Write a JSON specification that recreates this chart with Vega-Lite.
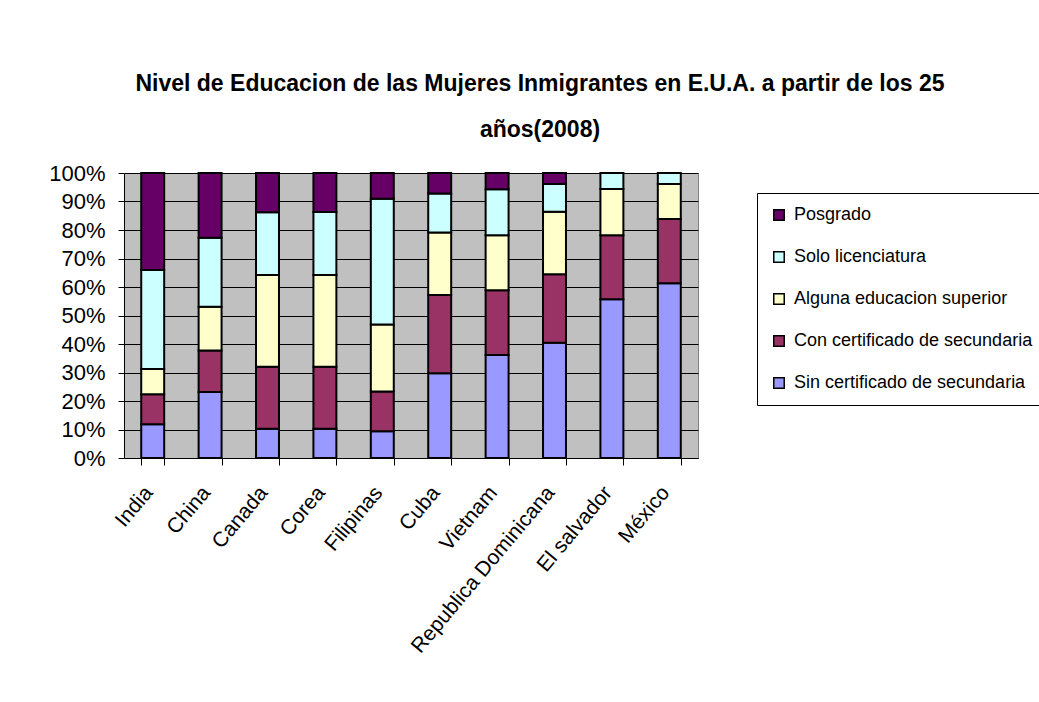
{
  "$schema": "https://vega.github.io/schema/vega-lite/v6.json",
  "width": 574,
  "height": 285,
  "autosize": {"type": "none"},
  "padding": {"left": 124, "top": 173, "right": 341, "bottom": 244},
  "background": "white",
  "title": {
    "text": ["Nivel de Educacion de las Mujeres Inmigrantes en E.U.A. a partir de los 25", "años(2008)"],
    "anchor": "middle",
    "frame": "group",
    "dx": 129,
    "offset": 20,
    "font": "Liberation Sans",
    "fontSize": 23,
    "fontWeight": "bold",
    "color": "black",
    "lineHeight": 46
  },
  "data": {
    "values": [
      {"pais": "India", "nivel": "Sin certificado de secundaria", "pct": 11.8},
      {"pais": "India", "nivel": "Con certificado de secundaria", "pct": 10.6},
      {"pais": "India", "nivel": "Alguna educacion superior", "pct": 8.8},
      {"pais": "India", "nivel": "Solo licenciatura", "pct": 34.8},
      {"pais": "India", "nivel": "Posgrado", "pct": 34.0},
      {"pais": "China", "nivel": "Sin certificado de secundaria", "pct": 23.2},
      {"pais": "China", "nivel": "Con certificado de secundaria", "pct": 14.5},
      {"pais": "China", "nivel": "Alguna educacion superior", "pct": 15.4},
      {"pais": "China", "nivel": "Solo licenciatura", "pct": 24.2},
      {"pais": "China", "nivel": "Posgrado", "pct": 22.7},
      {"pais": "Canada", "nivel": "Sin certificado de secundaria", "pct": 10.3},
      {"pais": "Canada", "nivel": "Con certificado de secundaria", "pct": 21.7},
      {"pais": "Canada", "nivel": "Alguna educacion superior", "pct": 32.2},
      {"pais": "Canada", "nivel": "Solo licenciatura", "pct": 22.0},
      {"pais": "Canada", "nivel": "Posgrado", "pct": 13.8},
      {"pais": "Corea", "nivel": "Sin certificado de secundaria", "pct": 10.3},
      {"pais": "Corea", "nivel": "Con certificado de secundaria", "pct": 21.7},
      {"pais": "Corea", "nivel": "Alguna educacion superior", "pct": 32.2},
      {"pais": "Corea", "nivel": "Solo licenciatura", "pct": 22.1},
      {"pais": "Corea", "nivel": "Posgrado", "pct": 13.7},
      {"pais": "Filipinas", "nivel": "Sin certificado de secundaria", "pct": 9.4},
      {"pais": "Filipinas", "nivel": "Con certificado de secundaria", "pct": 13.9},
      {"pais": "Filipinas", "nivel": "Alguna educacion superior", "pct": 23.5},
      {"pais": "Filipinas", "nivel": "Solo licenciatura", "pct": 44.2},
      {"pais": "Filipinas", "nivel": "Posgrado", "pct": 9.0},
      {"pais": "Cuba", "nivel": "Sin certificado de secundaria", "pct": 29.7},
      {"pais": "Cuba", "nivel": "Con certificado de secundaria", "pct": 27.5},
      {"pais": "Cuba", "nivel": "Alguna educacion superior", "pct": 21.9},
      {"pais": "Cuba", "nivel": "Solo licenciatura", "pct": 13.7},
      {"pais": "Cuba", "nivel": "Posgrado", "pct": 7.2},
      {"pais": "Vietnam", "nivel": "Sin certificado de secundaria", "pct": 36.1},
      {"pais": "Vietnam", "nivel": "Con certificado de secundaria", "pct": 22.8},
      {"pais": "Vietnam", "nivel": "Alguna educacion superior", "pct": 19.3},
      {"pais": "Vietnam", "nivel": "Solo licenciatura", "pct": 16.1},
      {"pais": "Vietnam", "nivel": "Posgrado", "pct": 5.7},
      {"pais": "Republica Dominicana", "nivel": "Sin certificado de secundaria", "pct": 40.4},
      {"pais": "Republica Dominicana", "nivel": "Con certificado de secundaria", "pct": 24.1},
      {"pais": "Republica Dominicana", "nivel": "Alguna educacion superior", "pct": 21.9},
      {"pais": "Republica Dominicana", "nivel": "Solo licenciatura", "pct": 9.7},
      {"pais": "Republica Dominicana", "nivel": "Posgrado", "pct": 3.9},
      {"pais": "El salvador", "nivel": "Sin certificado de secundaria", "pct": 55.7},
      {"pais": "El salvador", "nivel": "Con certificado de secundaria", "pct": 22.5},
      {"pais": "El salvador", "nivel": "Alguna educacion superior", "pct": 16.2},
      {"pais": "El salvador", "nivel": "Solo licenciatura", "pct": 5.6},
      {"pais": "El salvador", "nivel": "Posgrado", "pct": 0},
      {"pais": "México", "nivel": "Sin certificado de secundaria", "pct": 61.3},
      {"pais": "México", "nivel": "Con certificado de secundaria", "pct": 22.6},
      {"pais": "México", "nivel": "Alguna educacion superior", "pct": 12.2},
      {"pais": "México", "nivel": "Solo licenciatura", "pct": 3.9},
      {"pais": "México", "nivel": "Posgrado", "pct": 0}
    ]
  },
  "transform": [
    {"calculate": "indexof(['Sin certificado de secundaria', 'Con certificado de secundaria', 'Alguna educacion superior', 'Solo licenciatura', 'Posgrado'], datum.nivel)", "as": "orden"}
  ],
  "mark": {"type": "bar", "stroke": "black", "strokeWidth": 2, "strokeJoin": "miter"},
  "encoding": {
    "x": {
      "field": "pais",
      "type": "nominal",
      "sort": null,
      "title": null,
      "scale": {"paddingInner": 0.6, "paddingOuter": 0.3},
      "axis": {
        "labelAngle": -50,
        "labelAlign": "right",
        "labelBaseline": "middle",
        "labelFont": "Liberation Sans",
        "labelFontSize": 21,
        "labelColor": "black",
        "labelPadding": 24,
        "labelOffset": -4,
        "tickBand": "extent",
        "tickSize": 7,
        "tickColor": "black",
        "domainColor": "black",
        "domainWidth": 1,
        "grid": false,
        "labelLimit": 300
      }
    },
    "y": {
      "field": "pct",
      "type": "quantitative",
      "stack": "normalize",
      "title": null,
      "scale": {"domain": [0, 1], "nice": false},
      "axis": {
        "values": [0, 0.1, 0.2, 0.3, 0.4, 0.5, 0.6, 0.7, 0.8, 0.9, 1],
        "format": ".0%",
        "labelFont": "Liberation Sans",
        "labelFontSize": 22,
        "labelColor": "black",
        "labelPadding": 13,
        "tickSize": 6,
        "tickColor": "black",
        "domainColor": "black",
        "grid": true,
        "gridColor": "black",
        "gridWidth": 1,
        "gridOpacity": 1
      }
    },
    "order": {"field": "orden", "type": "quantitative"},
    "color": {
      "field": "nivel",
      "type": "nominal",
      "sort": ["Sin certificado de secundaria", "Con certificado de secundaria", "Alguna educacion superior", "Solo licenciatura", "Posgrado"],
      "scale": {
        "domain": ["Sin certificado de secundaria", "Con certificado de secundaria", "Alguna educacion superior", "Solo licenciatura", "Posgrado"],
        "range": ["#9999FF", "#993366", "#FFFFCC", "#CCFFFF", "#660066"]
      },
      "legend": {
        "title": null,
        "values": ["Posgrado", "Solo licenciatura", "Alguna educacion superior", "Con certificado de secundaria", "Sin certificado de secundaria"],
        "orient": "none",
        "legendX": 633,
        "legendY": 20,
        "padding": 13,
        "strokeColor": "black",
        "fillColor": "white",
        "symbolType": "square",
        "symbolSize": 110,
        "symbolStrokeColor": "black",
        "symbolStrokeWidth": 1.5,
        "symbolOpacity": 1,
        "labelFont": "Liberation Sans",
        "labelFontSize": 18,
        "labelColor": "black",
        "labelOffset": 6,
        "labelLimit": 400,
        "rowPadding": 24
      }
    }
  },
  "config": {
    "view": {"fill": "#C0C0C0", "stroke": "#808080", "strokeWidth": 1}
  }
}
